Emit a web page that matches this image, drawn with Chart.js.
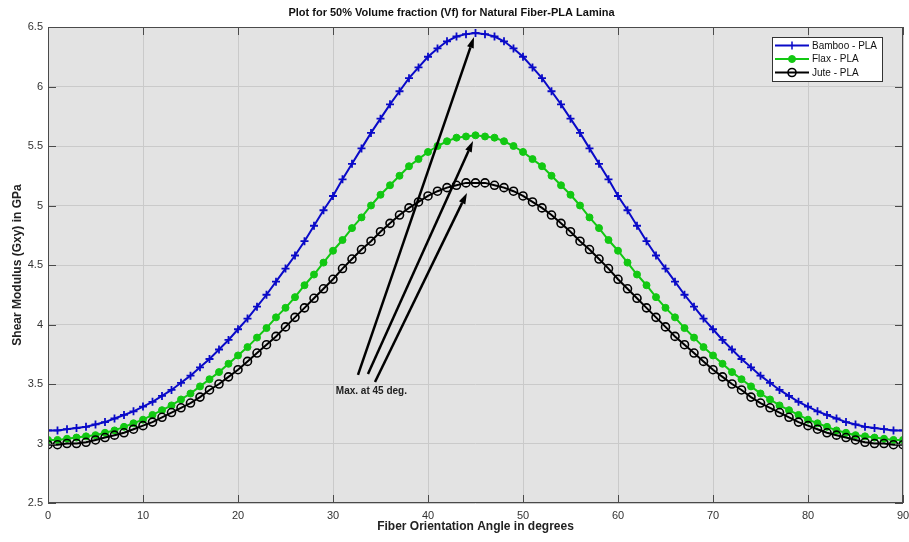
<!DOCTYPE html>
<html>
<head>
<meta charset="utf-8">
<title>Shear Modulus vs Fiber Orientation</title>
<script src="https://cdn.jsdelivr.net/npm/chart.js@4.4.0/dist/chart.umd.min.js"></script>
<style>
  html, body { margin: 0; padding: 0; background: #fff; }
</style>
</head>
<body>
<canvas id="shearChart" width="909" height="542"></canvas>
<script>
// fiber orientation angle, degrees
const angles = [
  0, 1, 2, 3, 4, 5, 6, 7, 8, 9, 10, 11, 12, 13, 14, 15, 16, 17, 18, 19,
  20, 21, 22, 23, 24, 25, 26, 27, 28, 29, 30, 31, 32, 33, 34, 35, 36, 37, 38, 39,
  40, 41, 42, 43, 44, 45, 46, 47, 48, 49, 50, 51, 52, 53, 54, 55, 56, 57, 58, 59,
  60, 61, 62, 63, 64, 65, 66, 67, 68, 69, 70, 71, 72, 73, 74, 75, 76, 77, 78, 79,
  80, 81, 82, 83, 84, 85, 86, 87, 88, 89, 90
];

// shear modulus Gxy in GPa
const bambooPLA = [
  3.11, 3.11, 3.12, 3.13, 3.14, 3.16, 3.18, 3.21, 3.24, 3.27,
  3.31, 3.35, 3.40, 3.45, 3.51, 3.57, 3.64, 3.71, 3.79, 3.87,
  3.96, 4.05, 4.15, 4.25, 4.36, 4.47, 4.58, 4.70, 4.83, 4.96,
  5.08, 5.22, 5.35, 5.48, 5.61, 5.73, 5.85, 5.96, 6.07, 6.16,
  6.25, 6.32, 6.38, 6.42, 6.44, 6.45, 6.44, 6.42, 6.38, 6.32,
  6.25, 6.16, 6.07, 5.96, 5.85, 5.73, 5.61, 5.48, 5.35, 5.22,
  5.08, 4.96, 4.83, 4.70, 4.58, 4.47, 4.36, 4.25, 4.15, 4.05,
  3.96, 3.87, 3.79, 3.71, 3.64, 3.57, 3.51, 3.45, 3.40, 3.35,
  3.31, 3.27, 3.24, 3.21, 3.18, 3.16, 3.14, 3.13, 3.12, 3.11,
  3.11
];
const flaxPLA = [
  3.03, 3.03, 3.04, 3.05, 3.06, 3.07, 3.09, 3.11, 3.14, 3.17,
  3.20, 3.24, 3.28, 3.32, 3.37, 3.42, 3.48, 3.54, 3.60, 3.67,
  3.74, 3.81, 3.89, 3.97, 4.06, 4.14, 4.23, 4.33, 4.42, 4.52,
  4.62, 4.71, 4.81, 4.90, 5.00, 5.09, 5.17, 5.25, 5.33, 5.39,
  5.45, 5.50, 5.54, 5.57, 5.58, 5.59, 5.58, 5.57, 5.54, 5.50,
  5.45, 5.39, 5.33, 5.25, 5.17, 5.09, 5.00, 4.90, 4.81, 4.71,
  4.62, 4.52, 4.42, 4.33, 4.23, 4.14, 4.06, 3.97, 3.89, 3.81,
  3.74, 3.67, 3.60, 3.54, 3.48, 3.42, 3.37, 3.32, 3.28, 3.24,
  3.20, 3.17, 3.14, 3.11, 3.09, 3.07, 3.06, 3.05, 3.04, 3.03,
  3.03
];
const jutePLA = [
  2.99, 2.99, 3.00, 3.00, 3.01, 3.03, 3.05, 3.07, 3.09, 3.12,
  3.15, 3.18, 3.22, 3.26, 3.30, 3.34, 3.39, 3.45, 3.50, 3.56,
  3.62, 3.69, 3.76, 3.83, 3.90, 3.98, 4.06, 4.14, 4.22, 4.30,
  4.38, 4.47, 4.55, 4.63, 4.70, 4.78, 4.85, 4.92, 4.98, 5.03,
  5.08, 5.12, 5.15, 5.17, 5.19, 5.19, 5.19, 5.17, 5.15, 5.12,
  5.08, 5.03, 4.98, 4.92, 4.85, 4.78, 4.70, 4.63, 4.55, 4.47,
  4.38, 4.30, 4.22, 4.14, 4.06, 3.98, 3.90, 3.83, 3.76, 3.69,
  3.62, 3.56, 3.50, 3.45, 3.39, 3.34, 3.30, 3.26, 3.22, 3.18,
  3.15, 3.12, 3.09, 3.07, 3.05, 3.03, 3.01, 3.00, 3.00, 2.99,
  2.99
];

const seriesNames = ['Bamboo - PLA', 'Flax - PLA', 'Jute - PLA'];

const toPoints = vals => angles.map((a, i) => ({ x: a, y: vals[i] }));

const FONT = 'Liberation Sans, Arial, Helvetica, sans-serif';

// grey plot area, MATLAB-style box with inward ticks
const plotFrame = {
  id: 'plotFrame',
  beforeDraw(chart) {
    const { ctx, chartArea: a } = chart;
    ctx.save();
    ctx.fillStyle = '#e3e3e3';
    ctx.fillRect(a.left, a.top, a.right - a.left, a.bottom - a.top);
    ctx.restore();
  },
  afterDatasetsDraw(chart) {
    const { ctx, chartArea: a, scales: { x, y } } = chart;
    const len = 8;
    ctx.save();
    ctx.strokeStyle = '#4a4a4a';
    ctx.lineWidth = 1;
    ctx.beginPath();
    x.ticks.forEach(t => {
      const px = Math.round(x.getPixelForValue(t.value)) + 0.5;
      ctx.moveTo(px, a.bottom); ctx.lineTo(px, a.bottom - len);
      ctx.moveTo(px, a.top); ctx.lineTo(px, a.top + len);
    });
    y.ticks.forEach(t => {
      const py = Math.round(y.getPixelForValue(t.value)) + 0.5;
      ctx.moveTo(a.left, py); ctx.lineTo(a.left + len, py);
      ctx.moveTo(a.right, py); ctx.lineTo(a.right - len, py);
    });
    ctx.stroke();
    ctx.strokeRect(Math.round(a.left) + 0.5, Math.round(a.top) + 0.5,
      Math.round(a.right - a.left) - 1, Math.round(a.bottom - a.top) - 1);
    ctx.restore();
  }
};

// arrows pointing at the 45 degree peaks, plus their label
const peakArrows = {
  id: 'peakArrows',
  afterDatasetsDraw(chart, args, opts) {
    const { ctx, scales: { x, y } } = chart;
    ctx.save();
    ctx.strokeStyle = '#000';
    ctx.fillStyle = '#000';
    ctx.lineWidth = 2.5;
    opts.arrows.forEach(([x0, y0, x1, y1]) => {
      const sx = x.getPixelForValue(x0), sy = y.getPixelForValue(y0);
      const ex = x.getPixelForValue(x1), ey = y.getPixelForValue(y1);
      const ang = Math.atan2(ey - sy, ex - sx);
      const hl = 11, hw = 3.5;
      const bx = ex - hl * Math.cos(ang), by = ey - hl * Math.sin(ang);
      ctx.beginPath();
      ctx.moveTo(sx, sy);
      ctx.lineTo(bx, by);
      ctx.stroke();
      ctx.beginPath();
      ctx.moveTo(ex, ey);
      ctx.lineTo(bx + hw * Math.sin(ang), by - hw * Math.cos(ang));
      ctx.lineTo(bx - hw * Math.sin(ang), by + hw * Math.cos(ang));
      ctx.closePath();
      ctx.fill();
    });
    ctx.font = 'bold 10px ' + FONT;
    ctx.fillStyle = '#222';
    ctx.textBaseline = 'middle';
    ctx.textAlign = 'left';
    ctx.fillText(opts.text, x.getPixelForValue(opts.textAt[0]), y.getPixelForValue(opts.textAt[1]));
    ctx.restore();
  }
};

// legend box in the upper right corner, line sample with marker
const boxLegend = {
  id: 'boxLegend',
  afterDraw(chart) {
    const { ctx, chartArea: a } = chart;
    const w = 110, h = 44, rowH = 13.5;
    const left = a.right - 21 - w, top = a.top + 10;
    ctx.save();
    ctx.fillStyle = '#fff';
    ctx.fillRect(left, top, w, h);
    ctx.strokeStyle = '#333';
    ctx.lineWidth = 1;
    ctx.strokeRect(Math.round(left) + 0.5, Math.round(top) + 0.5, w, h);
    ctx.font = '10px ' + FONT;
    ctx.textBaseline = 'middle';
    chart.data.datasets.forEach((ds, i) => {
      const cy = top + 8.5 + i * rowH;
      const x0 = left + 3, x1 = left + 37, cx = (x0 + x1) / 2;
      ctx.strokeStyle = ds.borderColor;
      ctx.lineWidth = 2;
      ctx.beginPath();
      ctx.moveTo(x0, cy); ctx.lineTo(x1, cy);
      ctx.stroke();
      if (ds.pointStyle === 'cross') {
        ctx.lineWidth = 1.5;
        ctx.beginPath();
        ctx.moveTo(cx, cy - 4); ctx.lineTo(cx, cy + 4);
        ctx.stroke();
      } else {
        ctx.beginPath();
        ctx.arc(cx, cy, ds.pointRadius, 0, Math.PI * 2);
        ctx.fillStyle = ds.pointBackgroundColor;
        ctx.fill();
        ctx.lineWidth = ds.pointBorderWidth;
        ctx.strokeStyle = ds.pointBorderColor;
        ctx.stroke();
      }
      ctx.fillStyle = '#111';
      ctx.fillText(ds.label, x1 + 3, cy + 0.5);
    });
    ctx.restore();
  }
};

const data = {
  datasets: [
    {
      label: seriesNames[0],
      data: toPoints(bambooPLA),
      borderColor: '#0a0ac8',
      borderWidth: 2,
      pointStyle: 'cross',
      pointRadius: 4,
      pointBorderWidth: 1.8,
      pointBorderColor: '#0a0ac8',
      pointBackgroundColor: '#0a0ac8',
      order: 3
    },
    {
      label: seriesNames[1],
      data: toPoints(flaxPLA),
      borderColor: '#12c812',
      borderWidth: 2,
      pointStyle: 'circle',
      pointRadius: 3.5,
      pointBorderWidth: 1,
      pointBorderColor: '#12c812',
      pointBackgroundColor: '#12c812',
      order: 2
    },
    {
      label: seriesNames[2],
      data: toPoints(jutePLA),
      borderColor: '#000',
      borderWidth: 2,
      pointStyle: 'circle',
      pointRadius: 4,
      pointBorderWidth: 1.6,
      pointBorderColor: '#000',
      pointBackgroundColor: 'rgba(0,0,0,0)',
      order: 1
    }
  ]
};

const config = {
  type: 'line',
  data: data,
  plugins: [plotFrame, peakArrows, boxLegend],
  options: {
    responsive: false,
    animation: false,
    layout: { padding: { left: 0, right: 6, top: 0, bottom: 0 } },
    elements: { line: { tension: 0 } },
    plugins: {
      legend: { display: false },
      tooltip: { enabled: false },
      title: {
        display: true,
        text: 'Plot for 50% Volume fraction (Vf) for Natural Fiber-PLA Lamina',
        color: '#111',
        font: { family: FONT, size: 11, weight: 'bold', lineHeight: 1.2 },
        padding: { top: 6, bottom: 7.8 }
      },
      peakArrows: {
        arrows: [
          [32.63, 3.576, 44.84, 6.416],
          [33.68, 3.584, 44.74, 5.542],
          [34.42, 3.517, 44.10, 5.105]
        ],
        text: 'Max. at 45 deg.',
        textAt: [30.3, 3.44]
      }
    },
    scales: {
      x: {
        type: 'linear',
        min: 0,
        max: 90,
        afterFit: s => { s.height = 39; s.paddingLeft = 0; s.paddingRight = 0; },
        ticks: { stepSize: 10, padding: 6, color: '#333', font: { family: FONT, size: 11 }, maxRotation: 0 },
        grid: { color: '#cacaca', lineWidth: 1, drawTicks: false },
        border: { display: false },
        title: {
          display: true,
          text: 'Fiber Orientation Angle in degrees',
          color: '#222',
          font: { family: FONT, size: 12, weight: 'bold', lineHeight: 1.2 },
          padding: { top: 0, bottom: 8 }
        }
      },
      y: {
        min: 2.5,
        max: 6.5,
        afterFit: s => { s.width = 48; },
        ticks: {
          stepSize: 0.5,
          padding: 5,
          color: '#333',
          font: { family: FONT, size: 11 },
          callback: v => String(v)
        },
        grid: { color: '#cacaca', lineWidth: 1, drawTicks: false },
        border: { display: false },
        title: {
          display: true,
          text: 'Shear Modulus (Gxy) in GPa',
          color: '#222',
          font: { family: FONT, size: 12, weight: 'bold', lineHeight: 1.2 },
          padding: { top: 10, bottom: 0 }
        }
      }
    }
  }
};

new Chart(document.getElementById('shearChart'), config);
</script>
</body>
</html>
